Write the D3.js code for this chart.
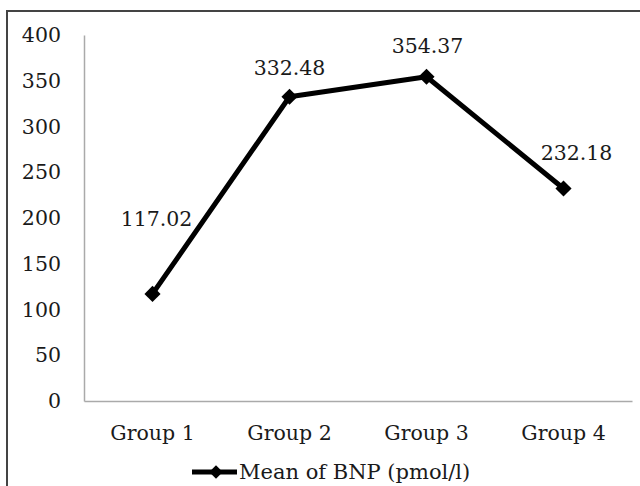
<!DOCTYPE html>
<html>
<head>
<meta charset="utf-8">
<script src="https://cdn.jsdelivr.net/npm/d3@7"></script>
<style>
  html, body { margin: 0; padding: 0; background: #fff; }
  svg { display: block; }
  text { font-family: "DejaVu Serif", serif; fill: #1a1a1a; }
</style>
</head>
<body>
<svg id="chart" width="640" height="486"></svg>
<script>
// Mean BNP per group
const groups = ["Group 1", "Group 2", "Group 3", "Group 4"];
const bnpMeans = [117.02, 332.48, 354.37, 232.18];
const yTicks = [0, 50, 100, 150, 200, 250, 300, 350, 400];
const seriesName = "Mean of BNP (pmol/l)";
// label placement relative to each point (dx, dy)
const labelOffsets = [[4, -68], [0, -22], [1, -24], [13, -29]];

const svg = d3.select("#chart");
const W = 640, H = 486;
svg.append("rect").attr("width", W).attr("height", H).attr("fill", "#fff");

// outer frame
svg.append("rect")
  .attr("x", 7).attr("y", 11)
  .attr("width", W + 10).attr("height", H + 10)
  .attr("fill", "none").attr("stroke", "#444").attr("stroke-width", 2);

const x = d3.scaleBand().domain(groups).range([84, 632]);
const y = d3.scaleLinear().domain([0, 400]).range([401, 35]);

const axisColor = "#aaa";

// y axis
const gy = svg.append("g").attr("transform", "translate(84,0)")
  .call(d3.axisLeft(y).tickValues(yTicks).tickSize(0).tickSizeOuter(0).tickPadding(23));
gy.select(".domain").attr("stroke", axisColor).attr("stroke-width", 1.5);
gy.selectAll("text").style("font-size", "20.5px").attr("font-family", "DejaVu Serif");

// x axis
const gx = svg.append("g").attr("transform", "translate(0,401)")
  .call(d3.axisBottom(x).tickSize(0).tickSizeOuter(0).tickPadding(24));
gx.select(".domain").attr("stroke", axisColor).attr("stroke-width", 1.5);
gx.selectAll("text").style("font-size", "20.5px").attr("font-family", "DejaVu Serif");

const cx = g => x(g) + x.bandwidth() / 2;
const pts = groups.map((g, i) => ({ g, v: bnpMeans[i], i }));

// series line
svg.append("path")
  .datum(pts)
  .attr("fill", "none").attr("stroke", "#000").attr("stroke-width", 5)
  .attr("stroke-linejoin", "round")
  .attr("d", d3.line().x(d => cx(d.g)).y(d => y(d.v)));

// diamond markers
const marker = d3.symbol().type(d3.symbolSquare).size(130);
svg.selectAll(".mk").data(pts).enter().append("path")
  .attr("class", "mk")
  .attr("d", marker)
  .attr("transform", d => `translate(${cx(d.g)},${y(d.v)}) rotate(45)`)
  .attr("fill", "#000");

// value labels
svg.selectAll(".lbl").data(pts).enter().append("text")
  .attr("class", "lbl")
  .attr("x", d => cx(d.g) + labelOffsets[d.i][0])
  .attr("y", d => y(d.v) + labelOffsets[d.i][1])
  .attr("text-anchor", "middle")
  .style("font-size", "20.5px")
  .text(d => d.v.toFixed(2));

// legend
const lg = svg.append("g").attr("transform", "translate(192,472)");
lg.append("line").attr("x1", 0).attr("x2", 45).attr("y1", 0).attr("y2", 0)
  .attr("stroke", "#000").attr("stroke-width", 5);
lg.append("path").attr("d", d3.symbol().type(d3.symbolSquare).size(90))
  .attr("transform", "translate(24,0) rotate(45)").attr("fill", "#000");
lg.append("text").attr("x", 47).attr("y", 7).style("font-size", "21px").text(seriesName);
</script>
</body>
</html>
